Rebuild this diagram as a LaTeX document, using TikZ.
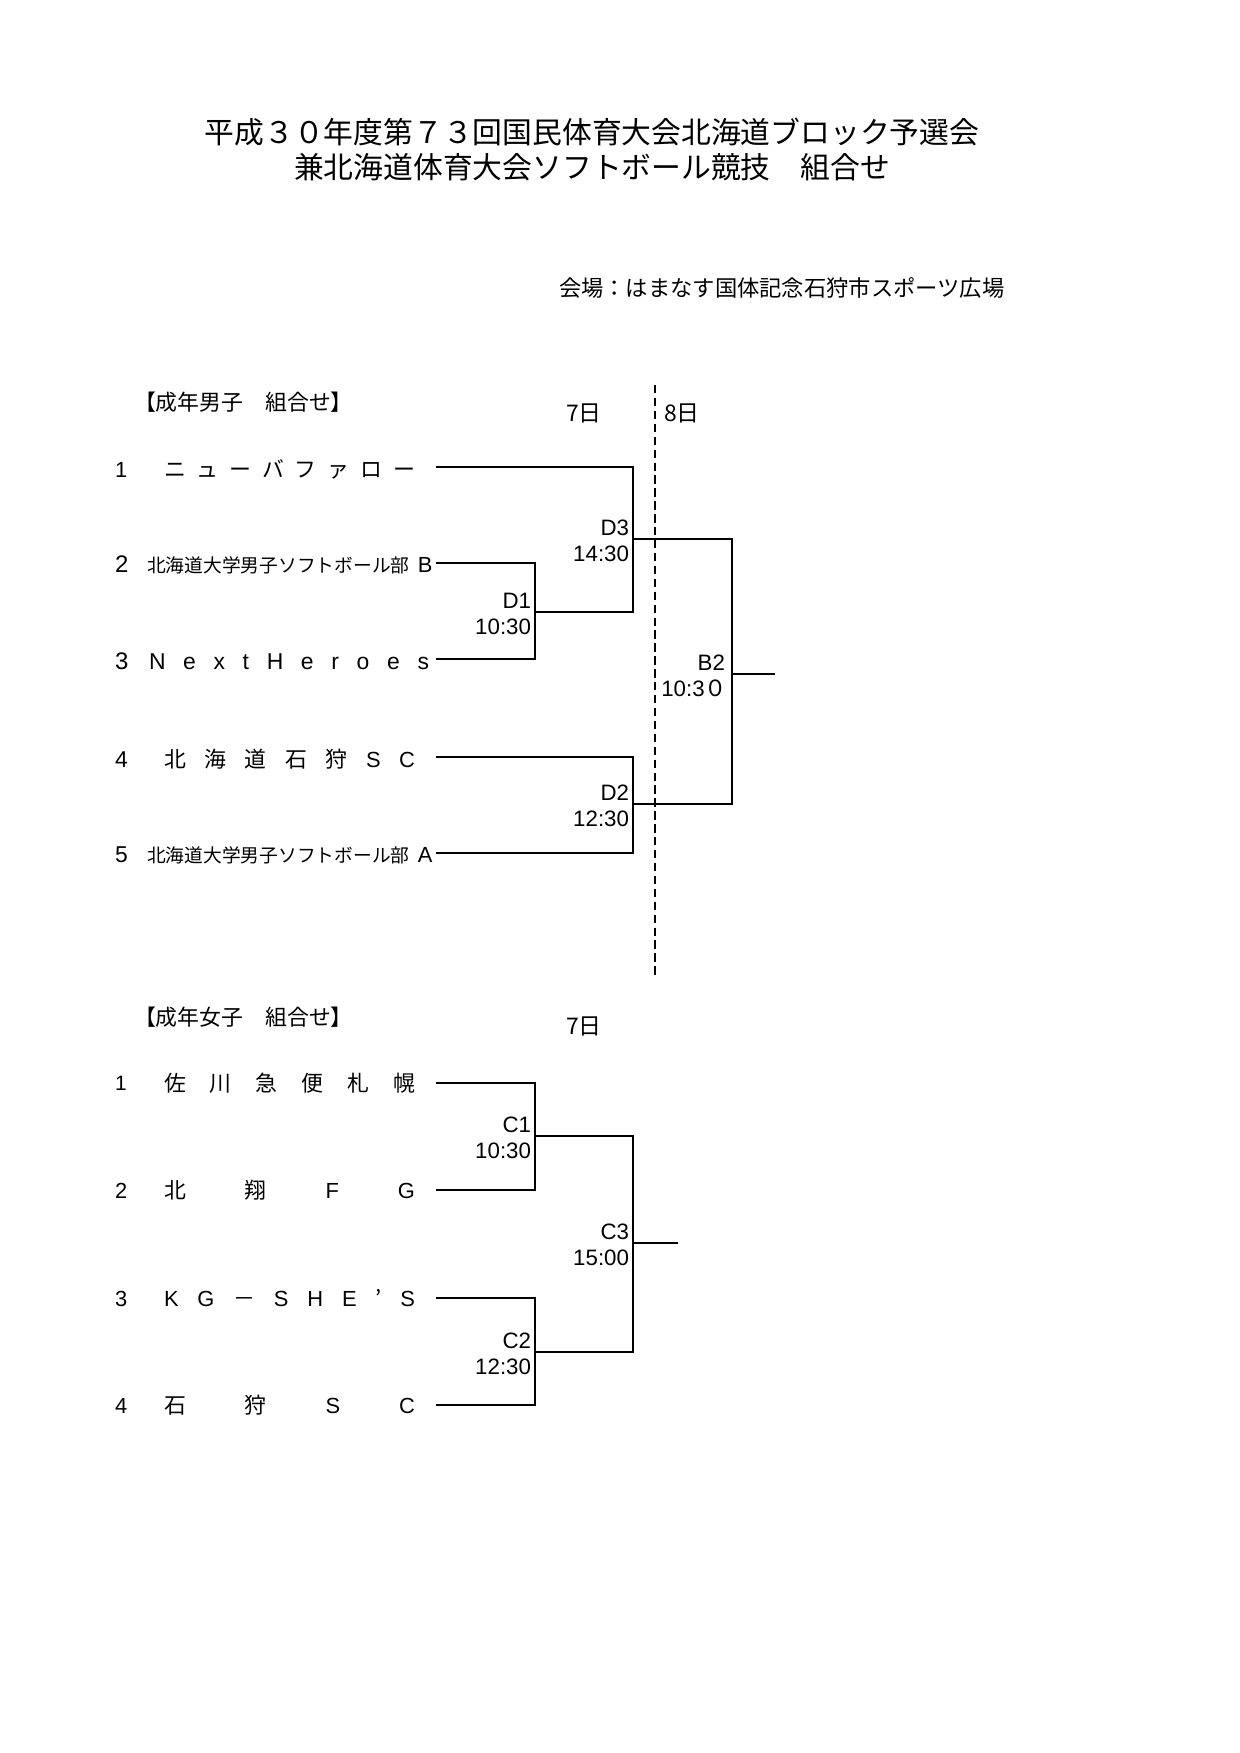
\documentclass[tikz,border=0pt]{standalone}
\usepackage{fontspec}
\setmainfont{Noto Sans CJK JP}
\newfontfamily\lat{Liberation Sans}
\newdimen\pxu \pxu=0.48pt
\newcommand\fsz[1]{\fontsize{#1}{#1}\selectfont}
\newcommand\spr[2]{\hbox to #1\pxu{#2}}
\begin{document}
\begin{tikzpicture}[x=0.48pt,y=-0.48pt,
  every node/.style={inner sep=0pt,outer sep=0pt},
  titlestyle/.style={anchor=base,font=\fsz{14.3pt}},
  headstyle/.style={anchor=base west,font=\fsz{10.5pt}},
  daystyle/.style={anchor=base west,font=\fsz{11pt}},
  numstyle/.style={anchor=base west,font=\lat\fsz{11pt}},
  namestyle/.style={anchor=base west,font=\fsz{10.5pt}},
  smallname/.style={anchor=base west,font=\fsz{9pt}},
  lbl/.style={anchor=base east,font=\lat\fsz{10.7pt}},
  br/.style={line width=1pt},
  dayline/.style={line width=1pt,dash pattern=on 4pt off 2.2pt}]
\fill[white] (0,0) rectangle (1240,1753);
\useasboundingbox (0,0) rectangle (1240,1753);

% titles
\node[titlestyle] (t1) at (592,143) {平成３０年度第７３回国民体育大会北海道ブロック予選会};
\node[titlestyle] (t2) at (592,178) {兼北海道体育大会ソフトボール競技　組合せ};
\node[anchor=base west,font=\fsz{10.7pt}] (venue) at (559,296) {会場：はまなす国体記念石狩市スポーツ広場};

% ===== men =====
\node[headstyle] (hm) at (134,410) {【成年男子　組合せ】};
\node[daystyle] (d7m) at (566,421) {7日};
\node[daystyle] (d8m) at (664,421) {8日};
\coordinate (dtop) at (655,385);
\coordinate (dbot) at (655,977);
\draw[dayline] (dtop) -- (dbot);

\node[numstyle,font=\lat\fsz{10.5pt}] (n1) at (115,477) {1};
\node[namestyle] (mt1) at (164,477) {\spr{251}{ニ\hfil ュ\hfil ー\hfil バ\hfil フ\hfil ァ\hfil ロ\hfil ー}};
\node[numstyle,font=\lat\fsz{11.5pt}] (n2) at (115,572) {2};
\node[smallname] (mt2) at (147,572) {北海道大学男子ソフトボール部\hspace{0.45em}{\lat\fsz{10.5pt}B}};
\node[numstyle,font=\lat\fsz{11.5pt}] (n3) at (115,669) {3};
\node[namestyle,font=\lat\fsz{11pt}] (mt3) at (149,669) {\spr{280}{N\hfil e\hfil x\hfil t\hfil H\hfil e\hfil r\hfil o\hfil e\hfil s}};
\node[numstyle,font=\lat\fsz{11pt}] (n4) at (115,767) {4};
\node[namestyle] (mt4) at (164,767) {\spr{251}{北\hfil 海\hfil 道\hfil 石\hfil 狩\hfil {\lat S}\hfil {\lat C}}};
\node[numstyle,font=\lat\fsz{11pt}] (n5) at (115,862) {5};
\node[smallname] (mt5) at (147,862) {北海道大学男子ソフトボール部\hspace{0.45em}{\lat\fsz{10.5pt}A}};

\coordinate (m1) at (436,467);
\coordinate (m2) at (436,563);
\coordinate (m3) at (436,659);
\coordinate (m4) at (436,757);
\coordinate (m5) at (436,853);
\coordinate (D1) at (535,612);
\coordinate (D3) at (633,539);
\coordinate (D2) at (633,804);
\coordinate (B2) at (732,674);
\coordinate (B2o) at (775,674);

\draw[br] (m1) -| (D3);
\draw[br] (m2) -| (D1);
\draw[br] (m3) -| (D1);
\draw[br] (D1) -| (D3);
\draw[br] (m4) -| (D2);
\draw[br] (m5) -| (D2);
\draw[br] (D3) -| (B2);
\draw[br] (D2) -| (B2);
\draw[br] (B2) -- (B2o);

\node[lbl] (lD1) at ([shift={(-4,-4)}]D1) {D1};
\node[lbl] (tD1) at ([shift={(-4,22)}]D1) {10:30};
\node[lbl] (lD3) at ([shift={(-4,-4)}]D3) {D3};
\node[lbl] (tD3) at ([shift={(-4,22)}]D3) {14:30};
\node[lbl] (lD2) at ([shift={(-4,-4)}]D2) {D2};
\node[lbl] (tD2) at ([shift={(-4,22)}]D2) {12:30};
\node[lbl] (lB2) at ([shift={(-7,-4)}]B2) {B2};
\node[lbl] (tB2) at ([shift={(-5,22)}]B2) {10:3{\rmfamily ０}};

% ===== women =====
\node[headstyle] (hf) at (134,1025) {【成年女子　組合せ】};
\node[daystyle] (d7f) at (566,1034) {7日};

\node[numstyle,font=\lat\fsz{10pt}] (f1n) at (115,1090) {1};
\node[namestyle] (ft1) at (164,1091) {\spr{251}{佐\hfil 川\hfil 急\hfil 便\hfil 札\hfil 幌}};
\node[numstyle,font=\lat\fsz{10.5pt}] (f2n) at (115,1198) {2};
\node[namestyle] (ft2) at (164,1198) {\spr{251}{北\hfil 翔\hfil {\lat F}\hfil {\lat G}}};
\node[numstyle,font=\lat\fsz{10.5pt}] (f3n) at (115,1306) {3};
\node[namestyle] (ft3) at (164,1306) {\spr{251}{{\lat K}\hfil {\lat G}\hfil －\hfil {\lat S}\hfil {\lat H}\hfil {\lat E}\hfil ’\hfil {\lat S}}};
\node[numstyle,font=\lat\fsz{10.5pt}] (f4n) at (115,1413) {4};
\node[namestyle] (ft4) at (164,1413) {\spr{251}{石\hfil 狩\hfil {\lat S}\hfil {\lat C}}};

\coordinate (w1) at (436,1083);
\coordinate (w2) at (436,1190);
\coordinate (w3) at (436,1298);
\coordinate (w4) at (436,1405);
\coordinate (C1) at (535,1136);
\coordinate (C2) at (535,1352);
\coordinate (C3) at (633,1243);
\coordinate (C3o) at (678,1243);

\draw[br] (w1) -| (C1);
\draw[br] (w2) -| (C1);
\draw[br] (w3) -| (C2);
\draw[br] (w4) -| (C2);
\draw[br] (C1) -| (C3);
\draw[br] (C2) -| (C3);
\draw[br] (C3) -- (C3o);

\node[lbl] (lC1) at ([shift={(-4,-4)}]C1) {C1};
\node[lbl] (tC1) at ([shift={(-4,22)}]C1) {10:30};
\node[lbl] (lC2) at ([shift={(-4,-4)}]C2) {C2};
\node[lbl] (tC2) at ([shift={(-4,22)}]C2) {12:30};
\node[lbl] (lC3) at ([shift={(-4,-4)}]C3) {C3};
\node[lbl] (tC3) at ([shift={(-4,22)}]C3) {15:00};
\end{tikzpicture}
\end{document}
